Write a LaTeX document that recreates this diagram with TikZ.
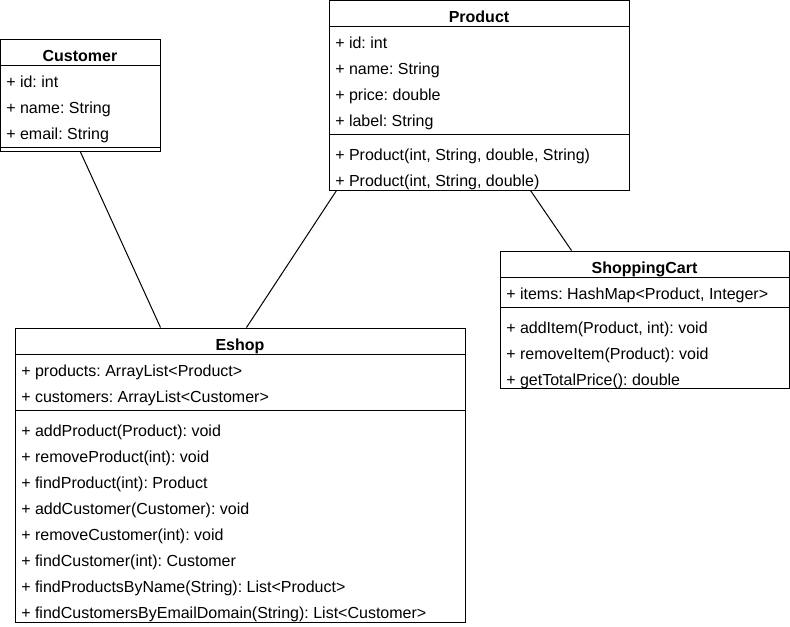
\documentclass[tikz,border=0pt]{standalone}
\usepackage{fontspec}
\setmainfont{Liberation Sans}
\frenchspacing
\usetikzlibrary{fit,calc}
\tikzset{
  classbox/.style={draw=black, line width=0.75pt, inner sep=0pt, fill=white},
  sepline/.style={draw=black, line width=0.75pt},
  conn/.style={draw=black, line width=0.75pt},
  row/.style={anchor=base west, inner sep=0pt, font=\fontsize{12pt}{14pt}\selectfont\frenchspacing},
  ttl/.style={anchor=base, inner sep=0pt, font=\fontsize{12pt}{14pt}\selectfont\bfseries},
}
\begin{document}
\begin{tikzpicture}[x=0.75pt,y=-0.75pt]
\useasboundingbox (0,0) rectangle (790,626);
% ---------- Customer ----------
\node[classbox, fit={(0.5,39) (160,151)}] (cust) {};
\draw[sepline] (0.5,65) -- (160,65);
\draw[sepline] (0.5,147) -- (160,147);
\node[ttl] (ct) at (80,61) {Customer};
\node[row] (c1) at (6,87) {+ id: int};
\node[row] (c2) at (6,113) {+ name: String};
\node[row] (c3) at (6,139) {+ email: String};
% ---------- Product ----------
\node[classbox, fit={(329,0.5) (629,190)}] (prod) {};
\draw[sepline] (329,26) -- (629,26);
\draw[sepline] (329,134) -- (629,134);
\node[ttl] (pt) at (479,22) {Product};
\node[row] (p1) at (335,48) {+ id: int};
\node[row] (p2) at (335,74) {+ name: String};
\node[row] (p3) at (335,100) {+ price: double};
\node[row] (p4) at (335,126) {+ label: String};
\node[row] (p5) at (335,160) {+ Product(int, String, double, String)};
\node[row] (p6) at (335,186) {+ Product(int, String, double)};
% ---------- ShoppingCart ----------
\node[classbox, fit={(500,251) (789,388.5)}] (cart) {};
\draw[sepline] (500,277) -- (789,277);
\draw[sepline] (500,307) -- (789,307);
\node[ttl] (st) at (644.5,273) {ShoppingCart};
\node[row] (s1) at (506,299) {+ items: HashMap<Product, Integer>};
\node[row] (s2) at (506,333) {+ addItem(Product, int): void};
\node[row] (s3) at (506,359) {+ removeItem(Product): void};
\node[row] (s4) at (506,385) {+ getTotalPrice(): double};
% ---------- Eshop ----------
\node[classbox, fit={(15,328) (465,622.5)}] (eshop) {};
\draw[sepline] (15,354) -- (465,354);
\draw[sepline] (15,410) -- (465,410);
\node[ttl] (et) at (240,350) {Eshop};
\node[row] (e1) at (21,376) {+ products: ArrayList<Product>};
\node[row] (e2) at (21,402) {+ customers: ArrayList<Customer>};
\node[row] (e3) at (21,436) {+ addProduct(Product): void};
\node[row] (e4) at (21,462) {+ removeProduct(int): void};
\node[row] (e5) at (21,488) {+ findProduct(int): Product};
\node[row] (e6) at (21,514) {+ addCustomer(Customer): void};
\node[row] (e7) at (21,540) {+ removeCustomer(int): void};
\node[row] (e8) at (21,566) {+ findCustomer(int): Customer};
\node[row] (e9) at (21,592) {+ findProductsByName(String): List<Product>};
\node[row] (e10) at (21,618) {+ findCustomersByEmailDomain(String): List<Customer>};
% ---------- connectors ----------
\draw[conn] (cust.south) -- ($(eshop.north west)+(146,0)$);
\draw[conn] ($(prod.south west)+(8,0)$) -- ($(eshop.north west)+(232,0)$);
\draw[conn] ($(prod.south west)+(202,0)$) -- ($(cart.north west)+(72,0)$);
\end{tikzpicture}
\end{document}
